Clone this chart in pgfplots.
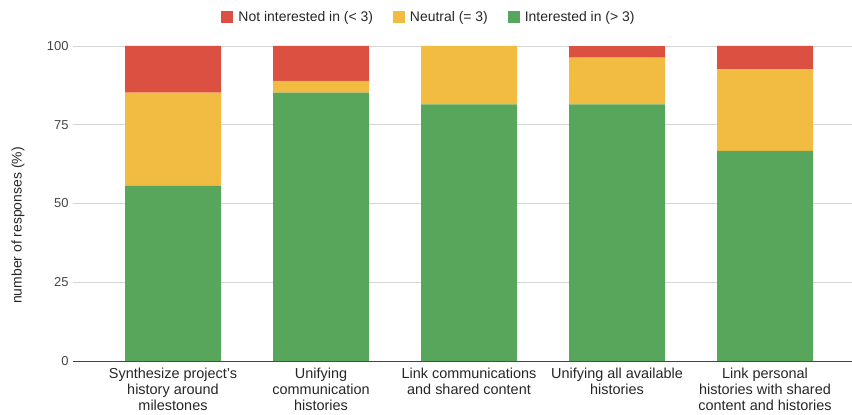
\documentclass[border=0pt]{standalone}
\usepackage{fontspec}
\setmainfont{Liberation Sans}
\usepackage{pgfplots}
\pgfplotsset{compat=1.18}
\definecolor{cRed}{RGB}{219,80,64}
\definecolor{cYel}{RGB}{242,188,66}
\definecolor{cGrn}{RGB}{88,166,92}
\definecolor{cGrid}{RGB}{214,214,214}
\definecolor{cTxt}{RGB}{68,68,68}
\begin{document}
\begin{tikzpicture}[x=1bp,y=1bp]
\path[use as bounding box] (0,0) rectangle (852,414);
\begin{axis}[
  at={(73bp,53bp)}, anchor=south west,
  scale only axis, width=779bp, height=315bp,
  ybar stacked, bar width=96bp,
  xmin=-0.6757, xmax=4.5878, ymin=0, ymax=100,
  xtick={0,1,2,3,4},
  xticklabels={{Synthesize project's\\history around\\milestones},
               {Unifying\\communication\\histories},
               {Link communications\\and shared content},
               {Unifying all available\\histories},
               {Link personal\\histories with shared\\content and histories}},
  xticklabel style={align=center, font=\fontsize{14.5}{16}\selectfont, text=black!85, anchor=north, yshift=-4bp},
  ytick={0,25,50,75,100},
  yticklabel style={font=\fontsize{13}{15}\selectfont, text=cTxt, xshift=-1bp},
  /pgf/number format/assume math mode=true,
  major tick length=0pt,
  ymajorgrids, grid style={cGrid, line width=0.8bp},
  axis x line*=bottom, axis y line*=left,
  y axis line style={draw=none},
  x axis line style={draw=cTxt, line width=0.8bp, -},
  ylabel={number of responses (\%)},
  ylabel style={font=\fontsize{14}{16}\selectfont, text=black!85},
  every axis y label/.append style={at={(axis description cs:-0.0706,0.43)}, anchor=center},
  clip=false,
]
\addplot+[fill=cGrn, draw=none] coordinates {(0,55.56) (1,85.19) (2,81.48) (3,81.48) (4,66.67)};
\addplot+[fill=cYel, draw=none] coordinates {(0,29.63) (1,3.70) (2,18.52) (3,14.81) (4,25.93)};
\addplot+[fill=cRed, draw=none] coordinates {(0,14.81) (1,11.11) (2,0) (3,3.70) (4,7.41)};
\end{axis}
\begin{axis}[
  at={(73bp,53bp)}, anchor=south west,
  scale only axis, width=779bp, height=315bp,
  xmin=0, xmax=1, ymin=0, ymax=1, hide axis,
  legend columns=3,
  legend style={at={(0.457,1.092)}, anchor=center, draw=none, fill=none,
    font=\fontsize{14}{16}\selectfont, text=black!85,
    /tikz/every odd column/.append style={column sep=3bp},
    /tikz/every even column/.append style={column sep=18bp}},
  legend image code/.code={\fill[#1] (0bp,-6bp) rectangle (12bp,6bp);},
]
\addlegendimage{fill=cRed, draw=none}
\addlegendentry{Not interested in (< 3)}
\addlegendimage{fill=cYel, draw=none}
\addlegendentry{Neutral (= 3)}
\addlegendimage{fill=cGrn, draw=none}
\addlegendentry{Interested in (> 3)}
\end{axis}
\end{tikzpicture}
\end{document}
